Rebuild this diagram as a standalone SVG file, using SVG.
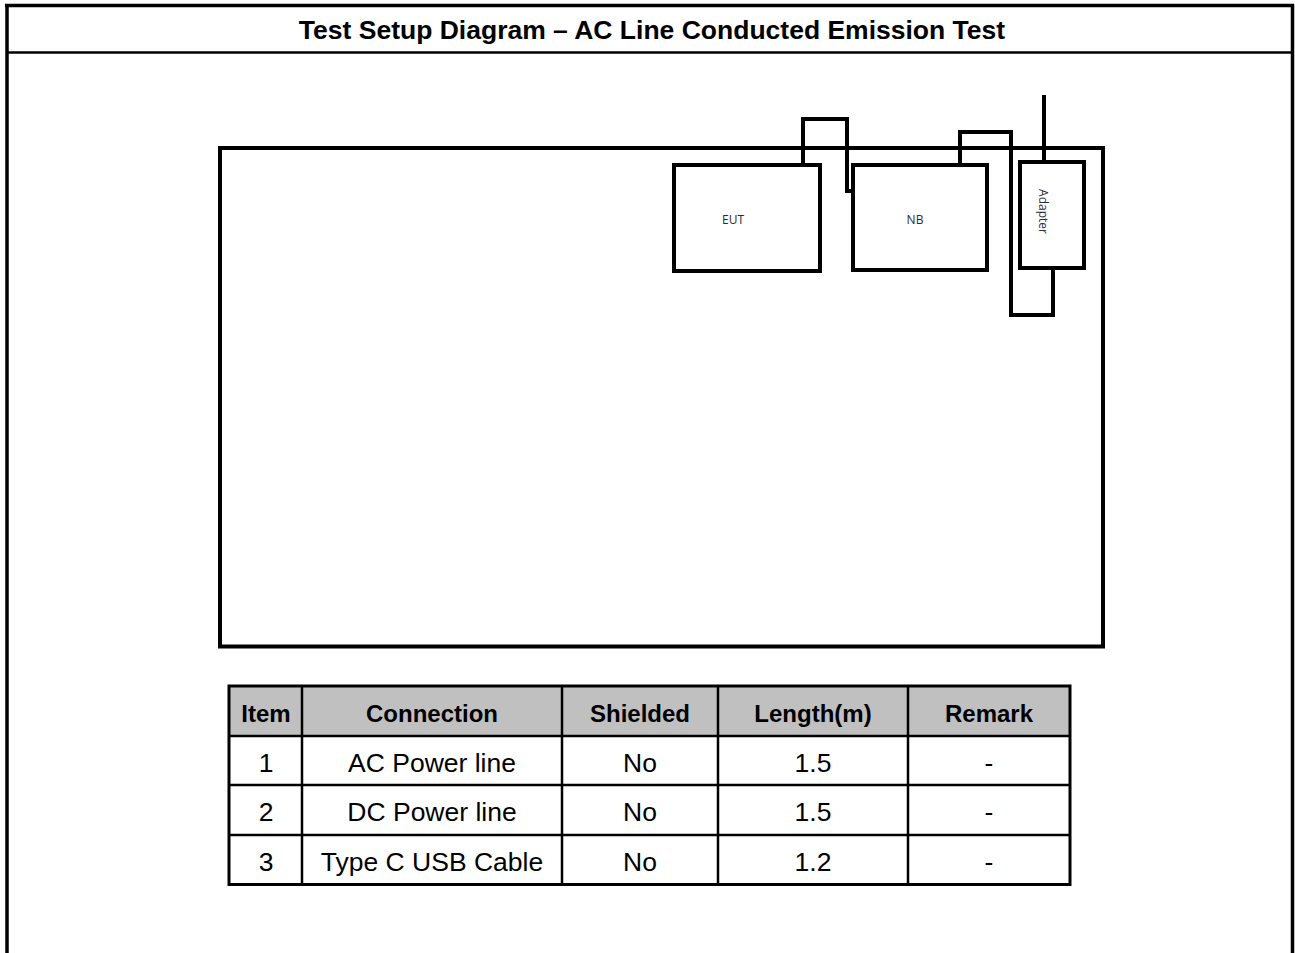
<svg xmlns="http://www.w3.org/2000/svg" width="1295" height="953" viewBox="0 0 1295 953">
<style>
.frame{fill:none;stroke:#000;stroke-width:3.5}
.box{fill:#fff;stroke:#000;stroke-width:4}
.cable{fill:none;stroke:#000;stroke-width:4}
.lbl{font-family:"Open Sans","Noto Sans",sans-serif;font-size:12px;fill:#2b2b3a}
.title{font-family:"Liberation Sans",Arial,sans-serif;font-size:26.5px;font-weight:bold;fill:#000}
.th{font-family:"Liberation Sans",Arial,sans-serif;font-size:24px;font-weight:bold;fill:#000}
.td{font-family:"Liberation Sans",Arial,sans-serif;font-size:26.5px;fill:#000}
.grid{stroke:#000;stroke-width:2.5;fill:none}
</style>
<rect width="1295" height="953" fill="#fff"/>
<g id="frame">
<line class="frame" x1="7" y1="4" x2="7" y2="953"/>
<line class="frame" x1="1292.5" y1="4" x2="1292.5" y2="953"/>
<line class="frame" x1="5" y1="5.5" x2="1294" y2="5.5"/>
<line x1="7" y1="52.5" x2="1292" y2="52.5" stroke="#000" stroke-width="2.5"/>
<text class="title" x="652" y="39" text-anchor="middle">Test Setup Diagram – AC Line Conducted Emission Test</text>
</g>
<g id="table-area">
<rect class="box" x="220" y="148" width="883" height="498.5" fill="none"/>
</g>
<g id="connectors">
<path class="cable" d="M803 165 V119 H847 V191 H853"/>
<path class="cable" d="M960 165 V132 H1011 V315 H1053 V268"/>
<path class="cable" d="M1044 162 V95"/>
</g>
<g id="EUT">
<rect class="box" x="674" y="165" width="146" height="106"/>
<text class="lbl" x="733" y="224" text-anchor="middle">EUT</text>
</g>
<g id="NB">
<rect class="box" x="853" y="165" width="134" height="105"/>
<text class="lbl" x="915" y="224" text-anchor="middle">NB</text>
</g>
<g id="Adapter">
<rect class="box" x="1020" y="162" width="64" height="106"/>
<text class="lbl" transform="translate(1039 211.5) rotate(90)" text-anchor="middle" fill="#4a3a30">Adapter</text>
</g>
<g id="cable-table">
<rect x="229" y="686" width="841" height="50" fill="#c0c0c0"/>
<g class="grid">
<line x1="229" y1="736" x2="1070" y2="736"/>
<line x1="229" y1="785" x2="1070" y2="785"/>
<line x1="229" y1="835" x2="1070" y2="835"/>
<line x1="302" y1="686" x2="302" y2="884"/>
<line x1="562" y1="686" x2="562" y2="884"/>
<line x1="718" y1="686" x2="718" y2="884"/>
<line x1="908" y1="686" x2="908" y2="884"/>
</g>
<rect x="229" y="686" width="841" height="198.5" fill="none" stroke="#000" stroke-width="3"/>
<g class="th" text-anchor="middle">
<text x="266" y="722">Item</text>
<text x="432" y="722">Connection</text>
<text x="640" y="722">Shielded</text>
<text x="813" y="722">Length(m)</text>
<text x="989" y="722">Remark</text>
</g>
<g class="td" text-anchor="middle">
<text x="266" y="772">1</text>
<text x="432" y="772">AC Power line</text>
<text x="640" y="772">No</text>
<text x="813" y="772">1.5</text>
<text x="989" y="772">-</text>
<text x="266" y="821">2</text>
<text x="432" y="821">DC Power line</text>
<text x="640" y="821">No</text>
<text x="813" y="821">1.5</text>
<text x="989" y="821">-</text>
<text x="266" y="871">3</text>
<text x="432" y="871">Type C USB Cable</text>
<text x="640" y="871">No</text>
<text x="813" y="871">1.2</text>
<text x="989" y="871">-</text>
</g>
</g>
</svg>
